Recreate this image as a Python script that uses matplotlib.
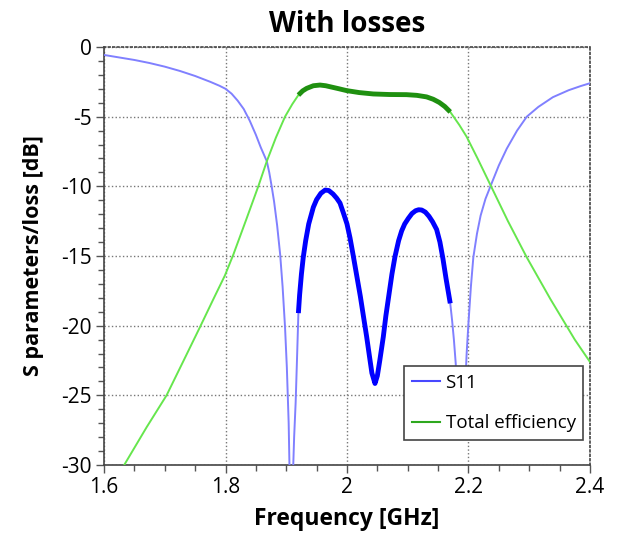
import numpy as np
import matplotlib
matplotlib.use("Agg")
import matplotlib.pyplot as plt
from matplotlib.ticker import MultipleLocator

plt.rcParams['font.family'] = ['Open Sans', 'DejaVu Sans']
plt.rcParams['axes.unicode_minus'] = False

# S11 [dB] vs frequency [GHz]
s11_freq = [1.600, 1.625, 1.650, 1.675, 1.700, 1.725, 1.750, 1.775, 1.790, 1.800,
            1.810, 1.820, 1.830, 1.840, 1.850, 1.858, 1.868, 1.872, 1.876, 1.880,
            1.885, 1.890, 1.894, 1.898, 1.901, 1.904, 1.9055, 1.9086, 1.9112, 1.913,
            1.9155, 1.918, 1.920, 1.922, 1.925, 1.928, 1.932, 1.937, 1.9446, 1.950,
            1.957, 1.964, 1.970, 1.977, 1.983, 1.9885, 1.994, 2.000, 2.005, 2.0104,
            2.016, 2.022, 2.027, 2.0324, 2.037, 2.041, 2.0461, 2.050, 2.054, 2.0598,
            2.064, 2.069, 2.074, 2.079, 2.085, 2.090, 2.095, 2.101, 2.107, 2.113,
            2.118, 2.123, 2.129, 2.135, 2.141, 2.1476, 2.153, 2.158, 2.163, 2.170,
            2.173, 2.176, 2.179, 2.182, 2.188, 2.194, 2.197, 2.200, 2.204, 2.208,
            2.214, 2.220, 2.228, 2.238, 2.250, 2.263, 2.280, 2.296, 2.315, 2.339,
            2.365, 2.385, 2.400]
s11_db = [-0.57, -0.75, -0.93, -1.15, -1.41, -1.72, -2.08, -2.50, -2.78, -3.0,
          -3.35, -3.85, -4.45, -5.3, -6.3, -7.2, -8.2, -9.0, -10.0, -11.1,
          -12.8, -14.9, -17.2, -20.1, -23.0, -27.0, -30.5, -45.0, -30.5, -28.0,
          -25.5, -22.0, -19.1, -17.8, -16.3, -15.1, -13.9, -12.7, -11.5, -10.95,
          -10.5, -10.27, -10.3, -10.55, -10.85, -11.2, -11.9, -12.7, -13.7, -15.0,
          -16.4, -17.9, -19.3, -20.8, -22.2, -23.4, -24.15, -23.6, -22.5, -20.8,
          -19.3, -17.8, -16.3, -15.05, -13.9, -13.2, -12.7, -12.3, -11.95, -11.75,
          -11.68, -11.7, -11.85, -12.15, -12.55, -13.1, -14.0, -15.2, -16.6, -18.4,
          -19.6, -21.0, -22.7, -25.0, -27.5, -25.0, -22.0, -19.8, -17.2, -15.1,
          -13.4, -12.1, -10.9, -9.8, -8.5, -7.3, -6.0, -5.0, -4.3, -3.6,
          -3.1, -2.8, -2.6]

# total efficiency [dB]
eff_freq = [1.600, 1.6346, 1.670, 1.703, 1.730, 1.758, 1.780, 1.799, 1.8129, 1.834,
            1.854, 1.868, 1.883, 1.898, 1.910, 1.920, 1.927, 1.9336, 1.9446, 1.9556,
            1.965, 1.975, 1.987, 1.9995, 2.020, 2.0433, 2.070, 2.098, 2.115, 2.131,
            2.142, 2.152, 2.161, 2.170, 2.185, 2.197, 2.215, 2.235, 2.265, 2.296,
            2.335, 2.375, 2.400]
eff_db = [-32.4, -29.9, -27.3, -25.0, -22.6, -20.1, -18.1, -16.4, -14.9, -12.4,
          -10.0, -8.2, -6.5, -5.0, -4.1, -3.45, -3.15, -2.97, -2.78, -2.73,
          -2.78, -2.88, -3.0, -3.13, -3.27, -3.37, -3.41, -3.42, -3.47, -3.58,
          -3.75, -3.98, -4.27, -4.66, -5.6, -6.44, -8.0, -9.8, -12.5, -15.1,
          -18.1, -21.0, -22.6]

# highlighted band
band_lo, band_hi = 1.92, 2.17

s11_freq = np.array(s11_freq); s11_db = np.array(s11_db)
eff_freq = np.array(eff_freq); eff_db = np.array(eff_db)
m1 = (s11_freq >= band_lo - 1e-6) & (s11_freq <= band_hi + 1e-6)
m2 = (eff_freq >= band_lo - 1e-6) & (eff_freq <= band_hi + 1e-6)

fig = plt.figure(figsize=(6.21, 5.36), dpi=100)
ax = fig.add_axes([0.1675, 0.1325, 0.7825, 0.7798])

ax.plot(s11_freq, s11_db, color='#8080ff', lw=1.4, zorder=3)
ax.plot(eff_freq, eff_db, color='#66e64d', lw=1.4, zorder=3)
ax.plot(s11_freq[m1], s11_db[m1], color='#0000ff', lw=3.5, zorder=4,
        solid_capstyle='butt', solid_joinstyle='round')
ax.plot(eff_freq[m2], eff_db[m2], color='#1f9010', lw=3.5, zorder=4,
        solid_capstyle='butt', solid_joinstyle='round')

# legend proxies
ax.plot([], [], color='#4848ff', lw=1.5, label='S11')
ax.plot([], [], color='#2ea81e', lw=1.5, label='Total efficiency')

ax.set_xlim(1.6, 2.4)
ax.set_ylim(-30, 0)
ax.xaxis.set_minor_locator(MultipleLocator(0.05))
ax.yaxis.set_minor_locator(MultipleLocator(1))
ax.set_xticks([1.6, 1.8, 2.0, 2.2, 2.4])
ax.set_xticklabels(['1.6', '1.8', '2', '2.2', '2.4'])
ax.set_yticks([0, -5, -10, -15, -20, -25, -30])
ax.set_yticklabels(['0', '-5', '-10', '-15', '-20', '-25', '-30'])

ax.tick_params(which='major', direction='out', length=6, width=1, color='#555555',
               labelsize=15, pad=3)
ax.tick_params(which='minor', direction='out', length=4, width=1, color='#555555')
ax.grid(True, which='major', linestyle=':', color='#777777', lw=1)

for s in ax.spines.values():
    s.set_color('#444444')
    s.set_linewidth(1.2)
ax.spines['top'].set_linestyle(':')
ax.spines['right'].set_linestyle(':')

ax.set_title('With losses', fontsize=20, fontweight='bold', pad=11)
ax.set_xlabel('Frequency [GHz]', fontsize=16.5, fontweight='bold', labelpad=6)
ax.set_ylabel('S parameters/loss [dB]', fontsize=15.5, fontweight='bold', labelpad=12)

leg = ax.legend(loc='lower right', bbox_to_anchor=(0.986, 0.06), fontsize=13.5,
                frameon=True, fancybox=False, framealpha=1, edgecolor='#444444',
                handlelength=1.5, handletextpad=0.3, labelspacing=1.2,
                borderpad=0.4, borderaxespad=0)
leg.get_frame().set_linewidth(1.2)
leg.set_zorder(10)

fig.savefig('out.png', dpi=100)
